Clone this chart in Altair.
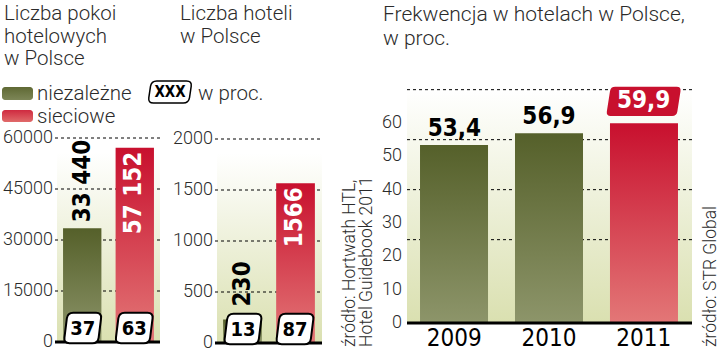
import altair as alt
import pandas as pd

# ---------------- data ----------------
room_types = ["niezależne", "sieciowe"]
rooms = [33440, 57152]
rooms_text = ["33 440", "57 152"]
rooms_pct = ["37", "63"]

hotels = [230, 1566]
hotels_text = ["230", "1566"]
hotels_pct = ["13", "87"]

years = ["2009", "2010", "2011"]
occupancy = [53.4, 56.9, 59.9]
occupancy_text = ["53,4", "56,9", "59,9"]

rooms_ticks = [0, 15000, 30000, 45000, 60000]
hotels_ticks = [0, 500, 1000, 1500, 2000]
occ_ticks = [0, 10, 20, 30, 40, 50, 60]
occ_grid = [25, 40, 55, 70]

# ---------------- styles ----------------
LIGHT = "Roboto"
COND = "'Liberation Sans Narrow', 'DejaVu Sans Condensed', sans-serif"
TXT = "#2b2b2b"


def grad(c0, c1):
    return alt.Gradient(gradient="linear",
                        stops=[alt.GradientStop(color=c0, offset=0),
                               alt.GradientStop(color=c1, offset=1)],
                        x1=0, x2=0, y1=0, y2=1)


GREEN = grad("#55602a", "#8d956a")
RED = grad("#c8102e", "#e37777")
BG = grad("#ffffff", "#dae0b0")


def box_path(h, s, r):
    """skewed rounded box inside [-1,1]; h half height, s top shift, r corner size"""
    pts = [(-1 + s, -h), (1, -h), (1 - s, h), (-1, h)]

    def lerp(a, b, t):
        return (a[0] + (b[0] - a[0]) * t, a[1] + (b[1] - a[1]) * t)

    def dist(a, b):
        return ((a[0] - b[0]) ** 2 + (a[1] - b[1]) ** 2) ** 0.5

    segs = []
    n = len(pts)
    for i in range(n):
        c = pts[i]
        p = pts[i - 1]
        q = pts[(i + 1) % n]
        a = lerp(c, p, r / dist(c, p))
        b = lerp(c, q, r / dist(c, q))
        segs.append((a, c, b))
    f = lambda v: f"{v[0]:.3f},{v[1]:.3f}"
    d = f"M {f(segs[0][2])} "
    for i in range(1, n + 1):
        a, c, b = segs[i % n]
        d += f"L {f(a)} Q {f(c)} {f(b)} "
    return d + "Z"


PCT_PATH = box_path(0.8, 0.2, 0.3)
BIG_PATH = box_path(0.39, 0.12, 0.12)
XXX_PATH = box_path(0.5, 0.15, 0.25)

one = alt.Data(values=[{}])


def bar_panel(df, xscale, yscale, ticks, x0, x1, lab_x, thr):
    X = alt.X("cat:N", scale=xscale, axis=None)
    Y = alt.Y("value:Q", scale=yscale, axis=None)
    Y0 = alt.Y(datum=0, scale=yscale, axis=None)
    top = ticks[-1]
    bg = alt.Chart(one).mark_rect(color=BG).encode(
        x=alt.value(x0), x2=alt.value(x1),
        y=Y0, y2=alt.Y2(datum=top * 0.93))
    tdf = pd.DataFrame({"t": ticks})
    grid = alt.Chart(tdf).transform_filter("datum.t > 0").mark_rule(
        color="black", strokeDash=[3, 3], strokeWidth=1).encode(
        y=alt.Y("t:Q", scale=yscale, axis=None),
        x=alt.value(x0 - 2), x2=alt.value(x1))
    tlab = alt.Chart(tdf).mark_text(
        align="right", baseline="middle", font=LIGHT, fontWeight=300,
        fontSize=18, color=TXT).encode(
        y=alt.Y("t:Q", scale=yscale, axis=None), x=alt.value(lab_x),
        text=alt.Text("t:Q", format="d"))
    gbar = alt.Chart(df).transform_filter(alt.datum.cat == room_types[0]).mark_bar(
        color=GREEN).encode(x=X, y=Y)
    rbar = alt.Chart(df).transform_filter(alt.datum.cat == room_types[1]).mark_bar(
        color=RED).encode(x=X, y=Y)
    base = alt.Chart(one).mark_rule(color="black", strokeWidth=3).encode(
        y=Y0, x=alt.value(x0 - 2), x2=alt.value(x1))
    glab = alt.Chart(df).transform_filter(alt.datum.cat == room_types[0]).transform_calculate(
        ly=f"max(datum.value, {thr})").mark_text(
        angle=270, align="left", baseline="middle", dx=6, font=COND,
        fontWeight="bold", fontSize=24, color="black").encode(
        x=X, y=alt.Y("ly:Q", scale=yscale, axis=None), text="label:N")
    rlab = alt.Chart(df).transform_filter(alt.datum.cat == room_types[1]).mark_text(
        angle=270, align="right", baseline="middle", dx=-4, font=COND,
        fontWeight="bold", fontSize=24, color="white").encode(
        x=X, y=Y, text="label:N")
    pbox = alt.Chart(df).mark_point(
        shape=PCT_PATH, size=38 * 38, filled=True, color="white",
        stroke="black", strokeWidth=2, opacity=1, yOffset=-14).encode(x=X, y=Y0)
    ptxt = alt.Chart(df).mark_text(
        font=COND, fontWeight="bold", fontSize=20, color="black",
        baseline="middle", dy=-13).encode(x=X, y=Y0, text="pct:N")
    return [bg, grid, tlab, gbar, rbar, base, glab, rlab, pbox, ptxt]


rooms_df = pd.DataFrame({"cat": room_types, "value": rooms,
                         "label": rooms_text, "pct": rooms_pct})
hotels_df = pd.DataFrame({"cat": room_types, "value": hotels,
                          "label": hotels_text, "pct": hotels_pct})

X1 = alt.Scale(domain=room_types, range=[57, 160], paddingInner=0.27, paddingOuter=0.115)
Y1 = alt.Scale(domain=[0, 60000], range=[342, 138])
X2 = alt.Scale(domain=room_types, range=[217, 321], paddingInner=0.27, paddingOuter=0.115)
Y2 = alt.Scale(domain=[0, 2000], range=[343, 139])

p1 = bar_panel(rooms_df, X1, Y1, rooms_ticks, 57, 160, 53, 9000)
p2 = bar_panel(hotels_df, X2, Y2, hotels_ticks, 217, 322, 213, 300)

# ---------------- panel 3 ----------------
occ_df = pd.DataFrame({"year": years, "value": occupancy, "label": occupancy_text})
X3 = alt.Scale(domain=years, range=[407, 691], paddingInner=0.284, paddingOuter=0.137)
Y3 = alt.Scale(domain=[0, 60], range=[323, 123])
X3e = alt.X("year:N", scale=X3, axis=None)
Y3e = alt.Y("value:Q", scale=Y3, axis=None)
Y30 = alt.Y(datum=0, scale=Y3, axis=None)

bg3 = alt.Chart(one).mark_rect(color=BG).encode(
    x=alt.value(407), x2=alt.value(692), y=Y30, y2=alt.Y2(datum=occ_grid[-1]))
grid3 = alt.Chart(pd.DataFrame({"t": occ_grid})).mark_rule(
    color="black", strokeDash=[3, 3], strokeWidth=1).encode(
    y=alt.Y("t:Q", scale=Y3, axis=None), x=alt.value(407), x2=alt.value(692))
tlab3 = alt.Chart(pd.DataFrame({"t": occ_ticks})).mark_text(
    align="right", baseline="middle", font=LIGHT, fontWeight=300,
    fontSize=18, color=TXT).encode(
    y=alt.Y("t:Q", scale=Y3, axis=None), x=alt.value(402),
    text=alt.Text("t:Q", format="d"))
gbar3 = alt.Chart(occ_df).transform_filter(alt.datum.year != years[-1]).mark_bar(
    color=GREEN).encode(x=X3e, y=Y3e)
rbar3 = alt.Chart(occ_df).transform_filter(alt.datum.year == years[-1]).mark_bar(
    color=RED).encode(x=X3e, y=Y3e)
base3 = alt.Chart(one).mark_rule(color="black", strokeWidth=3).encode(
    y=Y30, x=alt.value(407), x2=alt.value(692))
vlab3 = alt.Chart(occ_df).transform_filter(alt.datum.year != years[-1]).mark_text(
    baseline="alphabetic", dy=-9, font=COND, fontWeight="bold", fontSize=24,
    color="black").encode(x=X3e, y=Y3e, text="label:N")
vbox3 = alt.Chart(occ_df).transform_filter(alt.datum.year == years[-1]).mark_point(
    shape=BIG_PATH, size=75 * 75, filled=True, color="#c8102e", opacity=1,
    yOffset=-22).encode(x=X3e, y=Y3e)
vtxt3 = alt.Chart(occ_df).transform_filter(alt.datum.year == years[-1]).mark_text(
    baseline="middle", dy=-22, font=COND, fontWeight="bold", fontSize=24,
    color="white").encode(x=X3e, y=Y3e, text="label:N")
ylab3 = alt.Chart(occ_df).mark_text(
    baseline="middle", dy=16, font=COND, fontSize=24, color="black").encode(
    x=X3e, y=Y30, text="year:N")
p3 = [bg3, grid3, tlab3, gbar3, rbar3, base3, vlab3, vbox3, vtxt3, ylab3]


# ---------------- titles, legend, sources ----------------
def label(text, x, y, size=20, **kw):
    return alt.Chart(one).mark_text(
        align="left", baseline="alphabetic", font=LIGHT, fontWeight=300,
        fontSize=size, color=TXT, **kw).encode(
        x=alt.value(x), y=alt.value(y), text=alt.value(text))


texts = [
    label(["Liczba pokoi", "hotelowych", "w Polsce"], 4, 20, size=20.5, lineHeight=22.5),
    label(["Liczba hoteli", "w Polsce"], 180, 20, size=20.5, lineHeight=22.5),
    label(["Frekwencja w hotelach w Polsce,", "w proc."], 383, 21, size=21, lineHeight=24),
    label("niezależne", 37, 100, size=20.5),
    label("sieciowe", 37, 123, size=20.5),
    label("w proc.", 198, 100, size=20.5),
    label(["źródło: Hortwath HTL,", "Hotel Guidebook 2011"], 355, 347, size=17.5,
          angle=270, lineHeight=17),
    label("źródło: STR Global", 716, 347, size=17.5, angle=270),
]

sw_green = alt.Chart(one).mark_rect(color=grad("#5f6934", "#7d8657"), cornerRadius=3).encode(
    x=alt.value(2), x2=alt.value(33), y=alt.value(87), y2=alt.value(100))
sw_red = alt.Chart(one).mark_rect(color=grad("#cf2a40", "#e06a6a"), cornerRadius=3).encode(
    x=alt.value(2), x2=alt.value(33), y=alt.value(110), y2=alt.value(122))
xbox = alt.Chart(one).mark_point(
    shape=XXX_PATH, size=44 * 44, filled=True, color="white", stroke="black",
    strokeWidth=1.5, opacity=1).encode(x=alt.value(170), y=alt.value(92))
xtxt = alt.Chart(one).mark_text(
    font=COND, fontWeight="bold", fontSize=15, color="black", baseline="middle").encode(
    x=alt.value(170), y=alt.value(92), text=alt.value("XXX"))

layers = p1 + p2 + p3 + texts + [sw_green, sw_red, xbox, xtxt]

chart = alt.layer(*layers).resolve_scale(x="independent", y="independent").properties(
    width=720, height=351, padding=0,
    autosize=alt.AutoSizeParams(type="none"), background="white",
).configure_view(stroke=None)

chart.save("out.html", embed_options={"renderer": "svg", "actions": False})
